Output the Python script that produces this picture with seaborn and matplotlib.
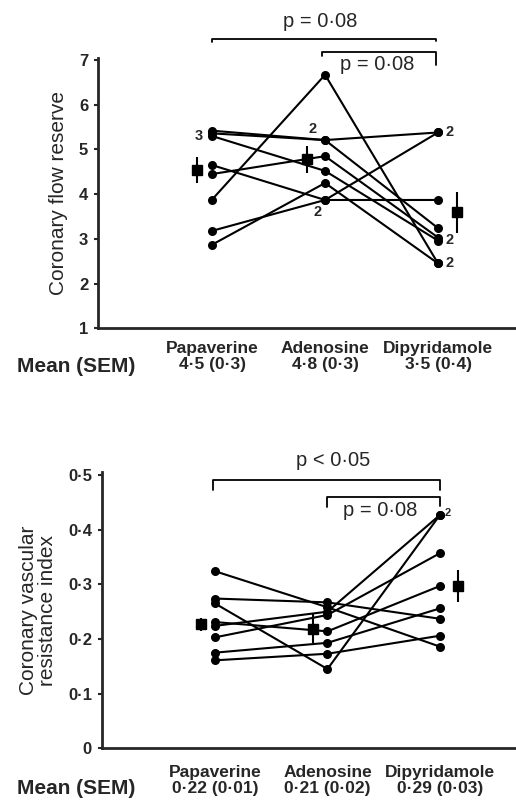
import numpy as np
import pandas as pd
import seaborn as sns
import matplotlib.pyplot as plt
from matplotlib.ticker import FuncFormatter

drugs = ['Papaverine', 'Adenosine', 'Dipyridamole']

# coronary flow reserve, one value per patient
cfr_pap = [3.88, 5.42, 5.36, 5.30, 4.45, 4.65, 3.18, 2.87]
cfr_ade = [6.67, 5.21, 5.21, 4.52, 4.85, 3.87, 3.87, 4.25]
cfr_dip = [2.45, 5.38, 3.24, 2.96, 3.03, 3.87, 5.38, 2.45]
cfr_mean = [4.54, 4.78, 3.59]
cfr_sem = [0.3, 0.3, 0.45]
cfr_labels = ['4·5 (0·3)', '4·8 (0·3)', '3·5 (0·4)']

# coronary vascular resistance index
cvri_pap = [0.324, 0.274, 0.265, 0.231, 0.224, 0.203, 0.175, 0.161]
cvri_ade = [0.258, 0.267, 0.145, 0.214, 0.250, 0.244, 0.193, 0.173]
cvri_dip = [0.186, 0.237, 0.427, 0.297, 0.427, 0.357, 0.256, 0.206]
cvri_mean = [0.227, 0.219, 0.297]
cvri_sem = [0.012, 0.027, 0.03]
cvri_labels = ['0·22 (0·01)', '0·21 (0·02)', '0·29 (0·03)']

sns.set_style('ticks')
plt.rcParams['font.family'] = ['Liberation Sans', 'DejaVu Sans']


def long_df(p, a, d):
    rows = []
    for i, vals in enumerate(zip(p, a, d)):
        for j, v in enumerate(vals):
            rows.append({'patient': i, 'pos': j, 'value': v})
    return pd.DataFrame(rows)


def dot(x):
    return x.replace('.', '·')


fig = plt.figure(figsize=(5.16, 8), dpi=100)
ax1 = fig.add_axes([98 / 516, 1 - 328.3 / 800, 1 - 98 / 516, 270.5 / 800])
ax2 = fig.add_axes([101.7 / 516, 1 - 748.3 / 800, 1 - 101.7 / 516, 276 / 800])


def panel(ax, df, means, sems, offs, labels, pad):
    sns.lineplot(data=df, x='pos', y='value', units='patient', estimator=None,
                 color='black', lw=1.5, marker='o', markersize=6.5,
                 markeredgewidth=0, ax=ax, legend=False)
    ax.errorbar(np.arange(3) + np.array(offs), means, yerr=sems, fmt='s',
                color='black', ms=6.5, elinewidth=1.5, capsize=0)
    sns.despine(ax=ax)
    for s in ['left', 'bottom']:
        ax.spines[s].set_linewidth(2)
    ax.set_xticks(range(3))
    ax.set_xticklabels([f'{d}\n{l}' for d, l in zip(drugs, labels)],
                       fontsize=12.5, fontweight='bold', linespacing=1.1)
    ax.tick_params(axis='x', length=0, pad=pad)
    ax.tick_params(axis='y', length=3, width=1.5, labelsize=12, pad=4)
    ax.set_xlabel('')


def bracket(ax, x0, x1, y, d0, d1):
    ax.plot([x0, x0, x1, x1], [y - d0, y, y, y - d1], color='black', lw=1.3,
            clip_on=False)


# top panel
panel(ax1, long_df(cfr_pap, cfr_ade, cfr_dip), cfr_mean, cfr_sem,
      [-0.13, -0.16, 0.17], cfr_labels, 9)
ax1.set_xlim(-1.01, 2.69)
ax1.set_ylim(1, 7.05)
ax1.set_yticks(range(1, 8))
for t in ax1.get_yticklabels():
    t.set_fontweight('bold')
ax1.set_ylabel('Coronary flow reserve', fontsize=15, labelpad=8)
bracket(ax1, 0, 1.98, 7.47, 0.06, 0.04)
ax1.text(0.96, 7.87, 'p = 0·08', ha='center', va='center', fontsize=14.5)
bracket(ax1, 0.97, 1.98, 7.19, 0.1, 0.3)
ax1.text(1.46, 6.91, 'p = 0·08', ha='center', va='center', fontsize=14.5)
for x, y, s in [(-0.12, 5.3, '3'), (0.89, 5.45, '2'), (0.93, 3.6, '2'),
                (2.1, 5.38, '2'), (2.1, 2.97, '2'), (2.1, 2.45, '2')]:
    ax1.text(x, y, s, ha='center', va='center', fontsize=10.5, fontweight='bold')

# bottom panel
panel(ax2, long_df(cvri_pap, cvri_ade, cvri_dip), cvri_mean, cvri_sem,
      [-0.12, -0.13, 0.16], cvri_labels, 12)
ax2.set_xlim(-1.007, 2.676)
ax2.set_ylim(0, 0.505)
ax2.set_yticks(np.arange(0, 0.51, 0.1))
ax2.yaxis.set_major_formatter(FuncFormatter(lambda v, p: '0' if v < 1e-9 else dot(f'{v:.1f}')))
for t in ax2.get_yticklabels():
    t.set_fontweight('bold')
ax2.set_ylabel('Coronary vascular\nresistance index', fontsize=15, labelpad=8,
               linespacing=1.0)
bracket(ax2, -0.02, 2.0, 0.49, 0.018, 0.018)
ax2.text(1.05, 0.527, 'p < 0·05', ha='center', va='center', fontsize=14.5)
bracket(ax2, 1.0, 2.0, 0.46, 0.018, 0.016)
ax2.text(1.47, 0.435, 'p = 0·08', ha='center', va='center', fontsize=14.5)
ax2.text(2.07, 0.43, '2', ha='center', va='center', fontsize=8, fontweight='bold')

fig.text(17 / 516, 1 - 366 / 800, 'Mean (SEM)', ha='left', va='center',
         fontsize=15, fontweight='bold')
fig.text(17 / 516, 1 - 789 / 800, 'Mean (SEM)', ha='left', va='center',
         fontsize=15, fontweight='bold')

fig.savefig('out.png', dpi=100, facecolor='white')
